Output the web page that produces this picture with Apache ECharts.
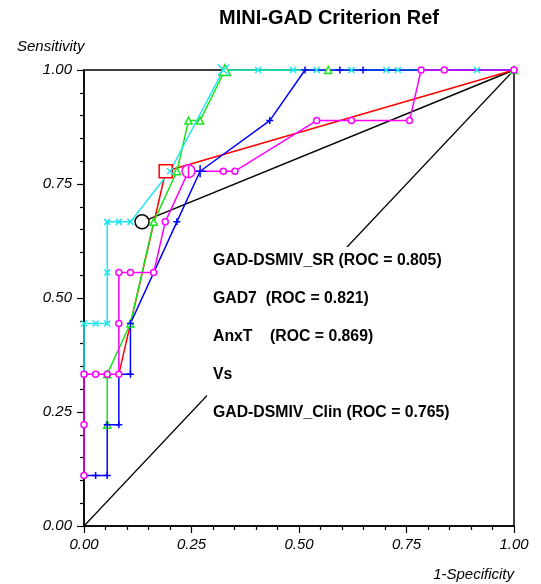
<!DOCTYPE html>
<html>
<head>
<meta charset="utf-8">
<script src="https://cdn.jsdelivr.net/npm/echarts@6/dist/echarts.min.js"></script>
<style>
  html, body { margin: 0; padding: 0; background: #fff; }
  #chart { width: 541px; height: 584px; }
</style>
</head>
<body>
<div id="chart"></div>
<script>
// ROC curves, x = 1-Specificity, y = Sensitivity
const cyanX = [0, 0, 0.027, 0.054, 0.054, 0.054, 0.081, 0.108, 0.2, 0.324, 0.405, 0.486, 0.541, 0.622, 0.703, 0.73, 0.914, 1]
const cyanY = [0.333, 0.444, 0.444, 0.444, 0.556, 0.667, 0.667, 0.667, 0.778, 1, 1, 1, 1, 1, 1, 1, 1, 1]
const cyanCut = 9

const greenX = [0.054, 0.054, 0.108, 0.162, 0.216, 0.243, 0.27, 0.328, 0.568, 1]
const greenY = [0.222, 0.333, 0.444, 0.667, 0.778, 0.889, 0.889, 1, 1, 1]
const greenCut = 7

const blueX = [0, 0.027, 0.054, 0.054, 0.081, 0.081, 0.108, 0.108, 0.216, 0.27, 0.432, 0.514, 0.595, 0.649, 1]
const blueY = [0.111, 0.111, 0.111, 0.222, 0.222, 0.333, 0.333, 0.444, 0.667, 0.778, 0.889, 1, 1, 1, 1]
const blueCut = 9

const magentaX = [0, 0, 0, 0.027, 0.054, 0.081, 0.081, 0.081, 0.108, 0.162, 0.189, 0.243, 0.324, 0.351, 0.541, 0.622, 0.757, 0.784, 0.838, 1]
const magentaY = [0.111, 0.222, 0.333, 0.333, 0.333, 0.333, 0.444, 0.556, 0.556, 0.556, 0.667, 0.778, 0.778, 0.778, 0.889, 0.889, 0.889, 1, 1, 1]
const magentaCut = 11

const redX = [0.081, 0.19, 1]
const redY = [0.333, 0.778, 1]
const redCut = 1

const blackX = [0.135, 1]
const blackY = [0.667, 1]
const blackCut = 0

const chanceX = [0, 1]
const chanceY = [0, 1]

const legendLines = [
  'GAD-DSMIV_SR (ROC = 0.805)',
  'GAD7  (ROC = 0.821)',
  'AnxT    (ROC = 0.869)',
  'Vs',
  'GAD-DSMIV_Clin (ROC = 0.765)'
]

const FONT = '"Liberation Sans", Arial, Helvetica, sans-serif'
const X_SYM = 'path://M0,0L10,10M10,0L0,10'
const PLUS_SYM = 'path://M5,0L5,10M0,5L10,5'
const PHI_SYM = 'path://M0,-10A10,10 0 1,1 0,10A10,10 0 1,1 0,-10ZM0,-10L0,10'

const zip = (xs, ys) => xs.map((x, i) => [x, ys[i]])

const makeSeries = (name, xs, ys, color, symbol, small, big, cut, bigSymbol) => ({
  name,
  type: 'line',
  data: zip(xs, ys),
  symbol: (v, p) => (p.dataIndex === cut && bigSymbol) ? bigSymbol : symbol,
  symbolSize: (v, p) => p.dataIndex === cut ? big : small,
  symbolKeepAspect: true,
  showAllSymbol: true,
  lineStyle: { color, width: 1.5 },
  itemStyle: { color: '#fff', borderColor: color, borderWidth: 1.5 },
  emphasis: { disabled: true }
})

const axisCommon = {
  type: 'value',
  min: 0,
  max: 1,
  interval: 0.25,
  splitLine: { show: false },
  axisLine: { show: true, lineStyle: { color: '#000', width: 1.5 } },
  axisTick: { show: true, length: 7, lineStyle: { color: '#000', width: 1.2 } },
  minorTick: { show: true, splitNumber: 5, length: 4, lineStyle: { color: '#000', width: 1.2 } },
  axisLabel: {
    color: '#000',
    fontSize: 15,
    fontStyle: 'italic',
    fontFamily: FONT,
    formatter: v => v.toFixed(2)
  }
}

const chart = echarts.init(document.getElementById('chart'))

chart.setOption({
  animation: false,
  grid: {
    left: 84,
    right: 27,
    top: 70,
    bottom: 58,
    show: true,
    borderColor: '#000',
    borderWidth: 1.5,
    backgroundColor: 'transparent'
  },
  xAxis: { ...axisCommon, axisLabel: { ...axisCommon.axisLabel, margin: 11 } },
  yAxis: { ...axisCommon, axisLabel: { ...axisCommon.axisLabel, margin: 12 } },
  series: [
    {
      type: 'line',
      data: zip(chanceX, chanceY),
      symbol: 'none',
      lineStyle: { color: '#000', width: 1.2 },
      emphasis: { disabled: true }
    },
    makeSeries('black', blackX, blackY, '#000', 'none', 0, 14, blackCut, 'circle'),
    makeSeries('red', redX, redY, '#ff0000', 'none', 0, 13, redCut, 'rect'),
    makeSeries('green', greenX, greenY, '#19e619', 'triangle', 7, 11, greenCut),
    makeSeries('cyan', cyanX, cyanY, '#1ee6f0', X_SYM, 6, 11, cyanCut),
    makeSeries('blue', blueX, blueY, '#0000ff', PLUS_SYM, 7, 12, blueCut),
    makeSeries('magenta', magentaX, magentaY, '#ff00ff', 'circle', 6, 13, magentaCut, PHI_SYM)
  ],
  graphic: [
    {
      type: 'text',
      left: 219,
      top: 8,
      z: 100,
      style: { text: 'MINI-GAD Criterion Ref', font: 'bold 20px ' + FONT, fill: '#000' }
    },
    {
      type: 'text',
      left: 17,
      top: 39,
      z: 100,
      style: { text: 'Sensitivity', font: 'italic 15px ' + FONT, fill: '#000' }
    },
    {
      type: 'text',
      right: 27,
      top: 567,
      z: 100,
      style: { text: '1-Specificity', font: 'italic 15px ' + FONT, fill: '#000' }
    },
    {
      type: 'rect',
      z: 99,
      shape: { x: 207, y: 247, width: 254, height: 180 },
      style: { fill: '#fff' }
    },
    ...legendLines.map((t, i) => ({
      type: 'text',
      x: 213,
      y: 261 + i * 38,
      z: 100,
      style: {
        text: t,
        font: 'bold 15.8px ' + FONT,
        fill: '#000',
        textVerticalAlign: 'middle',
        whiteSpace: 'pre'
      }
    }))
  ]
})
</script>
</body>
</html>
